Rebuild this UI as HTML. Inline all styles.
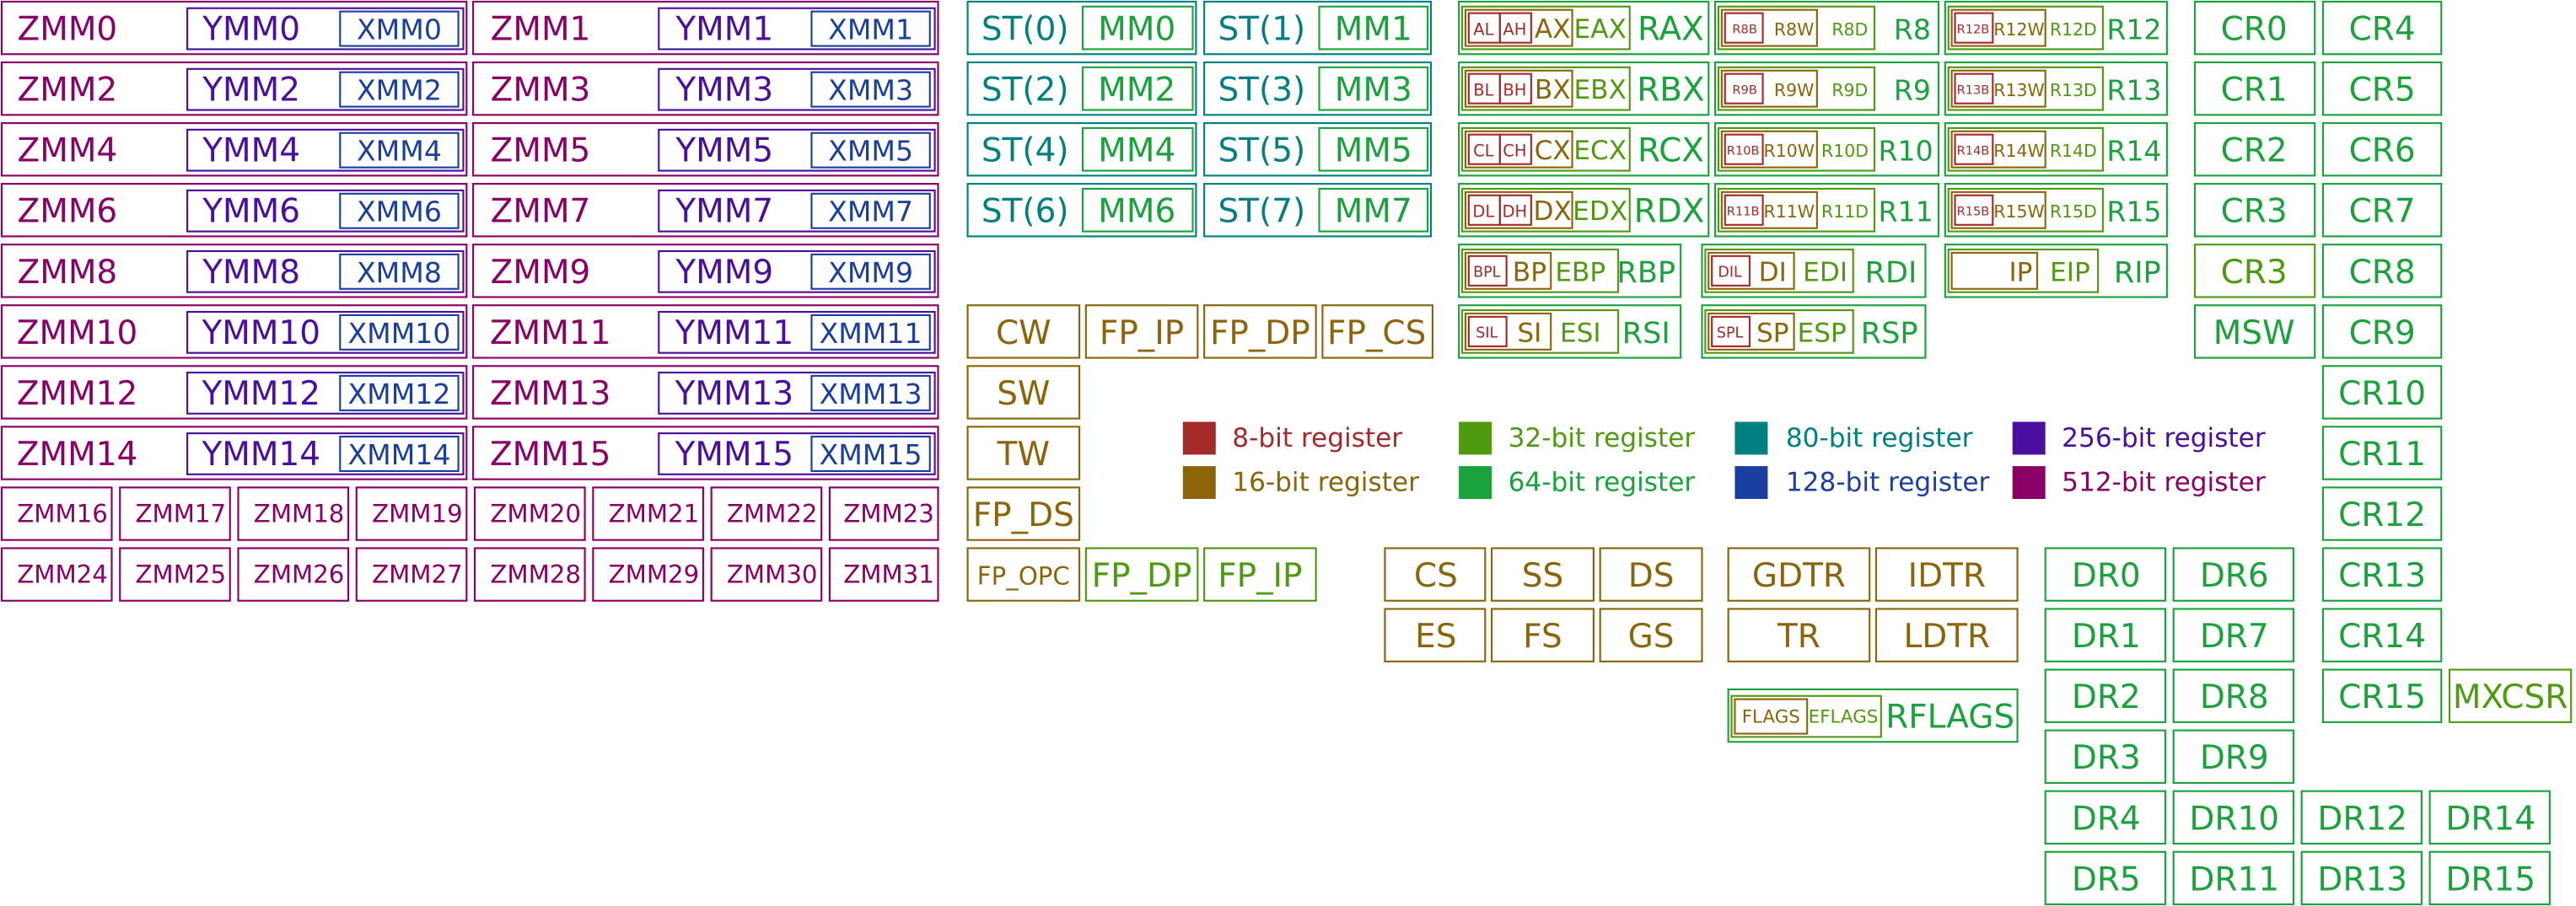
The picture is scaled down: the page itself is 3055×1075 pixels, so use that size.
<!DOCTYPE html>
<html><head><meta charset="utf-8"><style>
html,body{margin:0;padding:0;background:#fff;width:3055px;height:1075px;overflow:hidden}
svg{display:block}
text{font-family:"DejaVu Sans","Liberation Sans",sans-serif;text-anchor:middle;dominant-baseline:central}
rect{fill:none;stroke-width:1.1}
.s8{stroke:#a52a2a}.s16{stroke:#8b6508}.s32{stroke:#4f9a0e}.s64{stroke:#1aa33c}.s80{stroke:#008080}.s128{stroke:#1a3fa0}.s256{stroke:#4b0fa0}.s512{stroke:#8b0066}
.f8{fill:#a52a2a}.f16{fill:#8b6508}.f32{fill:#4f9a0e}.f64{fill:#1aa33c}.f80{fill:#008080}.f128{fill:#1a3fa0}.f256{fill:#4b0fa0}.f512{fill:#8b0066}
.l{text-anchor:start}
</style></head><body>
<svg width="3055" height="1075" viewBox="0 0 1568 552" preserveAspectRatio="none" xmlns="http://www.w3.org/2000/svg">
<!-- ZMM 0-15 -->
<g>
<rect class="s512" x="1" y="1" width="283" height="32"/><text class="f512" x="41" y="18" font-size="20">ZMM0</text><rect class="s256" x="114" y="5" width="168" height="25"/><text class="f256" x="153" y="18" font-size="20">YMM0</text><rect class="s128" x="207" y="7" width="72" height="21"/><text class="f128" x="243" y="18" font-size="17">XMM0</text>
<rect class="s512" x="288" y="1" width="283" height="32"/><text class="f512" x="329" y="18" font-size="20">ZMM1</text><rect class="s256" x="401" y="5" width="168" height="25"/><text class="f256" x="441" y="18" font-size="20">YMM1</text><rect class="s128" x="494" y="7" width="72" height="21"/><text class="f128" x="530" y="18" font-size="17">XMM1</text>

<rect class="s512" x="1" y="38" width="283" height="32"/><text class="f512" x="41" y="55" font-size="20">ZMM2</text><rect class="s256" x="114" y="42" width="168" height="25"/><text class="f256" x="153" y="55" font-size="20">YMM2</text><rect class="s128" x="207" y="44" width="72" height="21"/><text class="f128" x="243" y="55" font-size="17">XMM2</text>
<rect class="s512" x="288" y="38" width="283" height="32"/><text class="f512" x="329" y="55" font-size="20">ZMM3</text><rect class="s256" x="401" y="42" width="168" height="25"/><text class="f256" x="441" y="55" font-size="20">YMM3</text><rect class="s128" x="494" y="44" width="72" height="21"/><text class="f128" x="530" y="55" font-size="17">XMM3</text>

<rect class="s512" x="1" y="75" width="283" height="32"/><text class="f512" x="41" y="92" font-size="20">ZMM4</text><rect class="s256" x="114" y="79" width="168" height="25"/><text class="f256" x="153" y="92" font-size="20">YMM4</text><rect class="s128" x="207" y="81" width="72" height="21"/><text class="f128" x="243" y="92" font-size="17">XMM4</text>
<rect class="s512" x="288" y="75" width="283" height="32"/><text class="f512" x="329" y="92" font-size="20">ZMM5</text><rect class="s256" x="401" y="79" width="168" height="25"/><text class="f256" x="441" y="92" font-size="20">YMM5</text><rect class="s128" x="494" y="81" width="72" height="21"/><text class="f128" x="530" y="92" font-size="17">XMM5</text>

<rect class="s512" x="1" y="112" width="283" height="32"/><text class="f512" x="41" y="129" font-size="20">ZMM6</text><rect class="s256" x="114" y="116" width="168" height="25"/><text class="f256" x="153" y="129" font-size="20">YMM6</text><rect class="s128" x="207" y="118" width="72" height="21"/><text class="f128" x="243" y="129" font-size="17">XMM6</text>
<rect class="s512" x="288" y="112" width="283" height="32"/><text class="f512" x="329" y="129" font-size="20">ZMM7</text><rect class="s256" x="401" y="116" width="168" height="25"/><text class="f256" x="441" y="129" font-size="20">YMM7</text><rect class="s128" x="494" y="118" width="72" height="21"/><text class="f128" x="530" y="129" font-size="17">XMM7</text>

<rect class="s512" x="1" y="149" width="283" height="32"/><text class="f512" x="41" y="166" font-size="20">ZMM8</text><rect class="s256" x="114" y="153" width="168" height="25"/><text class="f256" x="153" y="166" font-size="20">YMM8</text><rect class="s128" x="207" y="155" width="72" height="21"/><text class="f128" x="243" y="166" font-size="17">XMM8</text>
<rect class="s512" x="288" y="149" width="283" height="32"/><text class="f512" x="329" y="166" font-size="20">ZMM9</text><rect class="s256" x="401" y="153" width="168" height="25"/><text class="f256" x="441" y="166" font-size="20">YMM9</text><rect class="s128" x="494" y="155" width="72" height="21"/><text class="f128" x="530" y="166" font-size="17">XMM9</text>

<rect class="s512" x="1" y="186" width="283" height="32"/><text class="f512" x="47" y="203" font-size="20">ZMM10</text><rect class="s256" x="114" y="190" width="168" height="25"/><text class="f256" x="159" y="203" font-size="20">YMM10</text><rect class="s128" x="207" y="192" width="72" height="21"/><text class="f128" x="243" y="203" font-size="17">XMM10</text>
<rect class="s512" x="288" y="186" width="283" height="32"/><text class="f512" x="335" y="203" font-size="20">ZMM11</text><rect class="s256" x="401" y="190" width="168" height="25"/><text class="f256" x="447" y="203" font-size="20">YMM11</text><rect class="s128" x="494" y="192" width="72" height="21"/><text class="f128" x="530" y="203" font-size="17">XMM11</text>

<rect class="s512" x="1" y="223" width="283" height="32"/><text class="f512" x="47" y="240" font-size="20">ZMM12</text><rect class="s256" x="114" y="227" width="168" height="25"/><text class="f256" x="159" y="240" font-size="20">YMM12</text><rect class="s128" x="207" y="229" width="72" height="21"/><text class="f128" x="243" y="240" font-size="17">XMM12</text>
<rect class="s512" x="288" y="223" width="283" height="32"/><text class="f512" x="335" y="240" font-size="20">ZMM13</text><rect class="s256" x="401" y="227" width="168" height="25"/><text class="f256" x="447" y="240" font-size="20">YMM13</text><rect class="s128" x="494" y="229" width="72" height="21"/><text class="f128" x="530" y="240" font-size="17">XMM13</text>

<rect class="s512" x="1" y="260" width="283" height="32"/><text class="f512" x="47" y="277" font-size="20">ZMM14</text><rect class="s256" x="114" y="264" width="168" height="25"/><text class="f256" x="159" y="277" font-size="20">YMM14</text><rect class="s128" x="207" y="266" width="72" height="21"/><text class="f128" x="243" y="277" font-size="17">XMM14</text>
<rect class="s512" x="288" y="260" width="283" height="32"/><text class="f512" x="335" y="277" font-size="20">ZMM15</text><rect class="s256" x="401" y="264" width="168" height="25"/><text class="f256" x="447" y="277" font-size="20">YMM15</text><rect class="s128" x="494" y="266" width="72" height="21"/><text class="f128" x="530" y="277" font-size="17">XMM15</text>
</g>
<!-- ZMM16-31 -->
<g font-size="15">
<rect class="s512" x="1" y="297" width="67" height="32"/><text class="f512" x="38" y="313" font-size="15">ZMM16</text>
<rect class="s512" x="73" y="297" width="67" height="32"/><text class="f512" x="110" y="313" font-size="15">ZMM17</text>
<rect class="s512" x="145" y="297" width="67" height="32"/><text class="f512" x="182" y="313" font-size="15">ZMM18</text>
<rect class="s512" x="217" y="297" width="67" height="32"/><text class="f512" x="254" y="313" font-size="15">ZMM19</text>
<rect class="s512" x="289" y="297" width="67" height="32"/><text class="f512" x="326" y="313" font-size="15">ZMM20</text>
<rect class="s512" x="361" y="297" width="67" height="32"/><text class="f512" x="398" y="313" font-size="15">ZMM21</text>
<rect class="s512" x="433" y="297" width="67" height="32"/><text class="f512" x="470" y="313" font-size="15">ZMM22</text>
<rect class="s512" x="505" y="297" width="66" height="32"/><text class="f512" x="541" y="313" font-size="15">ZMM23</text>
<rect class="s512" x="1" y="334" width="67" height="32"/><text class="f512" x="38" y="350" font-size="15">ZMM24</text>
<rect class="s512" x="73" y="334" width="67" height="32"/><text class="f512" x="110" y="350" font-size="15">ZMM25</text>
<rect class="s512" x="145" y="334" width="67" height="32"/><text class="f512" x="182" y="350" font-size="15">ZMM26</text>
<rect class="s512" x="217" y="334" width="67" height="32"/><text class="f512" x="254" y="350" font-size="15">ZMM27</text>
<rect class="s512" x="289" y="334" width="67" height="32"/><text class="f512" x="326" y="350" font-size="15">ZMM28</text>
<rect class="s512" x="361" y="334" width="67" height="32"/><text class="f512" x="398" y="350" font-size="15">ZMM29</text>
<rect class="s512" x="433" y="334" width="67" height="32"/><text class="f512" x="470" y="350" font-size="15">ZMM30</text>
<rect class="s512" x="505" y="334" width="66" height="32"/><text class="f512" x="541" y="350" font-size="15">ZMM31</text>
</g>
<!-- ST / MM -->
<g>
<rect class="s80" x="589" y="1" width="139" height="32"/><text class="f80" x="624" y="18" font-size="20">ST(0)</text><rect class="s64" x="659" y="4" width="67" height="26"/><text class="f64" x="692" y="18" font-size="20">MM0</text>
<rect class="s80" x="733" y="1" width="138" height="32"/><text class="f80" x="768" y="18" font-size="20">ST(1)</text><rect class="s64" x="803" y="4" width="66" height="26"/><text class="f64" x="836" y="18" font-size="20">MM1</text>
<rect class="s80" x="589" y="38" width="139" height="32"/><text class="f80" x="624" y="55" font-size="20">ST(2)</text><rect class="s64" x="659" y="41" width="67" height="26"/><text class="f64" x="692" y="55" font-size="20">MM2</text>
<rect class="s80" x="733" y="38" width="138" height="32"/><text class="f80" x="768" y="55" font-size="20">ST(3)</text><rect class="s64" x="803" y="41" width="66" height="26"/><text class="f64" x="836" y="55" font-size="20">MM3</text>
<rect class="s80" x="589" y="75" width="139" height="32"/><text class="f80" x="624" y="92" font-size="20">ST(4)</text><rect class="s64" x="659" y="78" width="67" height="26"/><text class="f64" x="692" y="92" font-size="20">MM4</text>
<rect class="s80" x="733" y="75" width="138" height="32"/><text class="f80" x="768" y="92" font-size="20">ST(5)</text><rect class="s64" x="803" y="78" width="66" height="26"/><text class="f64" x="836" y="92" font-size="20">MM5</text>
<rect class="s80" x="589" y="112" width="139" height="32"/><text class="f80" x="624" y="129" font-size="20">ST(6)</text><rect class="s64" x="659" y="115" width="67" height="26"/><text class="f64" x="692" y="129" font-size="20">MM6</text>
<rect class="s80" x="733" y="112" width="138" height="32"/><text class="f80" x="768" y="129" font-size="20">ST(7)</text><rect class="s64" x="803" y="115" width="66" height="26"/><text class="f64" x="836" y="129" font-size="20">MM7</text>
</g>
<!-- FPU control -->
<g>
<rect class="s16" x="589" y="186" width="68" height="32"/><text class="f16" x="623" y="203" font-size="20">CW</text>
<rect class="s16" x="661" y="186" width="68" height="32"/><text class="f16" x="695" y="203" font-size="20">FP_IP</text>
<rect class="s16" x="733" y="186" width="68" height="32"/><text class="f16" x="767" y="203" font-size="20">FP_DP</text>
<rect class="s16" x="805" y="186" width="67" height="32"/><text class="f16" x="838" y="203" font-size="20">FP_CS</text>
<rect class="s16" x="589" y="223" width="68" height="32"/><text class="f16" x="623" y="240" font-size="20">SW</text>
<rect class="s16" x="589" y="260" width="68" height="32"/><text class="f16" x="623" y="277" font-size="20">TW</text>
<rect class="s16" x="589" y="297" width="68" height="32"/><text class="f16" x="623" y="314" font-size="20">FP_DS</text>
<rect class="s16" x="589" y="334" width="68" height="32"/><text class="f16" x="623" y="351" font-size="15">FP_OPC</text>
<rect class="s32" x="661" y="334" width="68" height="32"/><text class="f32" x="695" y="351" font-size="20">FP_DP</text>
<rect class="s32" x="733" y="334" width="68" height="32"/><text class="f32" x="767" y="351" font-size="20">FP_IP</text>
</g>
<!-- segments -->
<g>
<rect class="s16" x="843" y="334" width="61" height="32"/><text class="f16" x="874" y="351" font-size="20">CS</text>
<rect class="s16" x="908" y="334" width="62" height="32"/><text class="f16" x="939" y="351" font-size="20">SS</text>
<rect class="s16" x="974" y="334" width="62" height="32"/><text class="f16" x="1005" y="351" font-size="20">DS</text>
<rect class="s16" x="843" y="371" width="61" height="32"/><text class="f16" x="874" y="388" font-size="20">ES</text>
<rect class="s16" x="908" y="371" width="62" height="32"/><text class="f16" x="939" y="388" font-size="20">FS</text>
<rect class="s16" x="974" y="371" width="62" height="32"/><text class="f16" x="1005" y="388" font-size="20">GS</text>
<rect class="s16" x="1052" y="334" width="86" height="32"/><text class="f16" x="1095" y="351" font-size="20">GDTR</text>
<rect class="s16" x="1142" y="334" width="86" height="32"/><text class="f16" x="1185" y="351" font-size="20">IDTR</text>
<rect class="s16" x="1052" y="371" width="86" height="32"/><text class="f16" x="1095" y="388" font-size="20">TR</text>
<rect class="s16" x="1142" y="371" width="86" height="32"/><text class="f16" x="1185" y="388" font-size="20">LDTR</text>
<rect class="s64" x="1052" y="420" width="176" height="32"/>
<rect class="s32" x="1054" y="424" width="91" height="25"/>
<rect class="s16" x="1056" y="426" width="44" height="21"/>
<text class="f16" x="1078" y="437" font-size="11">FLAGS</text>
<text class="f32" x="1122" y="437" font-size="11">EFLAGS</text>
<text class="f64" x="1187" y="437" font-size="20">RFLAGS</text>
</g>
<!-- GPR block A -->
<g>
<rect class="s64" x="888" y="1" width="152" height="32"/><rect class="s32" x="890" y="4" width="102" height="26"/><rect class="s16" x="892" y="6" width="65" height="22"/><rect class="s8" x="894" y="8" width="19" height="18"/><rect class="s8" x="913" y="8" width="19" height="18"/>
<text class="f8" x="903" y="18" font-size="10">AL</text><text class="f8" x="922" y="18" font-size="10">AH</text><text class="f16" x="945" y="18" font-size="16">AX</text><text class="f32" x="974" y="18" font-size="16">EAX</text><text class="f64" x="1017" y="18" font-size="20">RAX</text>
<rect class="s64" x="888" y="38" width="152" height="32"/><rect class="s32" x="890" y="41" width="102" height="26"/><rect class="s16" x="892" y="43" width="65" height="22"/><rect class="s8" x="894" y="45" width="19" height="18"/><rect class="s8" x="913" y="45" width="19" height="18"/>
<text class="f8" x="903" y="55" font-size="10">BL</text><text class="f8" x="922" y="55" font-size="10">BH</text><text class="f16" x="945" y="55" font-size="16">BX</text><text class="f32" x="974" y="55" font-size="16">EBX</text><text class="f64" x="1017" y="55" font-size="20">RBX</text>
<rect class="s64" x="888" y="75" width="152" height="32"/><rect class="s32" x="890" y="78" width="102" height="26"/><rect class="s16" x="892" y="80" width="65" height="22"/><rect class="s8" x="894" y="82" width="19" height="18"/><rect class="s8" x="913" y="82" width="19" height="18"/>
<text class="f8" x="903" y="92" font-size="10">CL</text><text class="f8" x="922" y="92" font-size="10">CH</text><text class="f16" x="945" y="92" font-size="16">CX</text><text class="f32" x="974" y="92" font-size="16">ECX</text><text class="f64" x="1017" y="92" font-size="20">RCX</text>
<rect class="s64" x="888" y="112" width="152" height="32"/><rect class="s32" x="890" y="115" width="102" height="26"/><rect class="s16" x="892" y="117" width="65" height="22"/><rect class="s8" x="894" y="119" width="19" height="18"/><rect class="s8" x="913" y="119" width="19" height="18"/>
<text class="f8" x="903" y="129" font-size="10">DL</text><text class="f8" x="922" y="129" font-size="10">DH</text><text class="f16" x="945" y="129" font-size="16">DX</text><text class="f32" x="974" y="129" font-size="16">EDX</text><text class="f64" x="1016" y="129" font-size="20">RDX</text>
</g>
<!-- GPR block B -->
<g>
<rect class="s64" x="1044" y="1" width="136" height="32"/><rect class="s32" x="1046" y="4" width="95" height="26"/><rect class="s16" x="1048" y="6" width="58" height="22"/><rect class="s8" x="1050" y="8" width="23" height="18"/>
<text class="f8" x="1062" y="18" font-size="7.5">R8B</text><text class="f16" x="1092" y="18" font-size="10.5">R8W</text><text class="f32" x="1126" y="18" font-size="10.5">R8D</text><text class="f64" x="1164" y="18" font-size="17">R8</text>
<rect class="s64" x="1044" y="38" width="136" height="32"/><rect class="s32" x="1046" y="41" width="95" height="26"/><rect class="s16" x="1048" y="43" width="58" height="22"/><rect class="s8" x="1050" y="45" width="23" height="18"/>
<text class="f8" x="1062" y="55" font-size="7.5">R9B</text><text class="f16" x="1092" y="55" font-size="10.5">R9W</text><text class="f32" x="1126" y="55" font-size="10.5">R9D</text><text class="f64" x="1164" y="55" font-size="17">R9</text>
<rect class="s64" x="1044" y="75" width="136" height="32"/><rect class="s32" x="1046" y="78" width="95" height="26"/><rect class="s16" x="1048" y="80" width="58" height="22"/><rect class="s8" x="1050" y="82" width="23" height="18"/>
<text class="f8" x="1061" y="92" font-size="7.5">R10B</text><text class="f16" x="1089" y="92" font-size="10.5">R10W</text><text class="f32" x="1123" y="92" font-size="10.5">R10D</text><text class="f64" x="1160" y="92" font-size="17">R10</text>
<rect class="s64" x="1044" y="112" width="136" height="32"/><rect class="s32" x="1046" y="115" width="95" height="26"/><rect class="s16" x="1048" y="117" width="58" height="22"/><rect class="s8" x="1050" y="119" width="23" height="18"/>
<text class="f8" x="1061" y="129" font-size="7.5">R11B</text><text class="f16" x="1089" y="129" font-size="10.5">R11W</text><text class="f32" x="1123" y="129" font-size="10.5">R11D</text><text class="f64" x="1160" y="129" font-size="17">R11</text>
</g>
<!-- GPR block C -->
<g>
<rect class="s64" x="1184" y="1" width="135" height="32"/><rect class="s32" x="1186" y="4" width="94" height="26"/><rect class="s16" x="1188" y="6" width="57" height="22"/><rect class="s8" x="1190" y="8" width="23" height="18"/>
<text class="f8" x="1201" y="18" font-size="7.5">R12B</text><text class="f16" x="1229" y="18" font-size="10.5">R12W</text><text class="f32" x="1262" y="18" font-size="10.5">R12D</text><text class="f64" x="1299" y="18" font-size="17">R12</text>
<rect class="s64" x="1184" y="38" width="135" height="32"/><rect class="s32" x="1186" y="41" width="94" height="26"/><rect class="s16" x="1188" y="43" width="57" height="22"/><rect class="s8" x="1190" y="45" width="23" height="18"/>
<text class="f8" x="1201" y="55" font-size="7.5">R13B</text><text class="f16" x="1229" y="55" font-size="10.5">R13W</text><text class="f32" x="1262" y="55" font-size="10.5">R13D</text><text class="f64" x="1299" y="55" font-size="17">R13</text>
<rect class="s64" x="1184" y="75" width="135" height="32"/><rect class="s32" x="1186" y="78" width="94" height="26"/><rect class="s16" x="1188" y="80" width="57" height="22"/><rect class="s8" x="1190" y="82" width="23" height="18"/>
<text class="f8" x="1201" y="92" font-size="7.5">R14B</text><text class="f16" x="1229" y="92" font-size="10.5">R14W</text><text class="f32" x="1262" y="92" font-size="10.5">R14D</text><text class="f64" x="1299" y="92" font-size="17">R14</text>
<rect class="s64" x="1184" y="112" width="135" height="32"/><rect class="s32" x="1186" y="115" width="94" height="26"/><rect class="s16" x="1188" y="117" width="57" height="22"/><rect class="s8" x="1190" y="119" width="23" height="18"/>
<text class="f8" x="1201" y="129" font-size="7.5">R15B</text><text class="f16" x="1229" y="129" font-size="10.5">R15W</text><text class="f32" x="1262" y="129" font-size="10.5">R15D</text><text class="f64" x="1299" y="129" font-size="17">R15</text>
</g>
<!-- rows 4/5 GPR -->
<g>
<rect class="s64" x="888" y="149" width="135" height="32"/><rect class="s32" x="890" y="152" width="95" height="26"/><rect class="s16" x="892" y="154" width="52" height="22"/><rect class="s8" x="894" y="156" width="23" height="18"/>
<text class="f8" x="905" y="166" font-size="9">BPL</text><text class="f16" x="931" y="166" font-size="16">BP</text><text class="f32" x="962" y="166" font-size="16">EBP</text><text class="f64" x="1002" y="166" font-size="18">RBP</text>
<rect class="s64" x="888" y="186" width="135" height="32"/><rect class="s32" x="890" y="189" width="95" height="26"/><rect class="s16" x="892" y="191" width="52" height="22"/><rect class="s8" x="894" y="193" width="23" height="18"/>
<text class="f8" x="905" y="203" font-size="9">SIL</text><text class="f16" x="931" y="203" font-size="16">SI</text><text class="f32" x="962" y="203" font-size="16">ESI</text><text class="f64" x="1002" y="203" font-size="18">RSI</text>
<rect class="s64" x="1036" y="149" width="136" height="32"/><rect class="s32" x="1038" y="152" width="90" height="26"/><rect class="s16" x="1040" y="154" width="52" height="22"/><rect class="s8" x="1042" y="156" width="23" height="18"/>
<text class="f8" x="1053" y="166" font-size="9">DIL</text><text class="f16" x="1079" y="166" font-size="16">DI</text><text class="f32" x="1111" y="166" font-size="16">EDI</text><text class="f64" x="1151" y="166" font-size="18">RDI</text>
<rect class="s64" x="1036" y="186" width="136" height="32"/><rect class="s32" x="1038" y="189" width="90" height="26"/><rect class="s16" x="1040" y="191" width="52" height="22"/><rect class="s8" x="1042" y="193" width="23" height="18"/>
<text class="f8" x="1053" y="203" font-size="9">SPL</text><text class="f16" x="1079" y="203" font-size="16">SP</text><text class="f32" x="1109" y="203" font-size="16">ESP</text><text class="f64" x="1150" y="203" font-size="18">RSP</text>
<rect class="s64" x="1184" y="149" width="135" height="32"/><rect class="s32" x="1186" y="152" width="91" height="26"/><rect class="s16" x="1188" y="154" width="52" height="22"/>
<text class="f16" x="1230" y="166" font-size="16">IP</text><text class="f32" x="1260" y="166" font-size="16">EIP</text><text class="f64" x="1301" y="166" font-size="18">RIP</text>
</g>
<!-- CR -->
<g>
<rect class="s64" x="1336" y="1" width="73" height="32"/><text class="f64" x="1372" y="18" font-size="20">CR0</text>
<rect class="s64" x="1414" y="1" width="72" height="32"/><text class="f64" x="1450" y="18" font-size="20">CR4</text>
<rect class="s64" x="1336" y="38" width="73" height="32"/><text class="f64" x="1372" y="55" font-size="20">CR1</text>
<rect class="s64" x="1414" y="38" width="72" height="32"/><text class="f64" x="1450" y="55" font-size="20">CR5</text>
<rect class="s64" x="1336" y="75" width="73" height="32"/><text class="f64" x="1372" y="92" font-size="20">CR2</text>
<rect class="s64" x="1414" y="75" width="72" height="32"/><text class="f64" x="1450" y="92" font-size="20">CR6</text>
<rect class="s64" x="1336" y="112" width="73" height="32"/><text class="f64" x="1372" y="129" font-size="20">CR3</text>
<rect class="s64" x="1414" y="112" width="72" height="32"/><text class="f64" x="1450" y="129" font-size="20">CR7</text>
<rect class="s32" x="1336" y="149" width="73" height="32"/><text class="f32" x="1372" y="166" font-size="20">CR3</text>
<rect class="s64" x="1414" y="149" width="72" height="32"/><text class="f64" x="1450" y="166" font-size="20">CR8</text>
<rect class="s64" x="1336" y="186" width="73" height="32"/><text class="f64" x="1372" y="203" font-size="20">MSW</text>
<rect class="s64" x="1414" y="186" width="72" height="32"/><text class="f64" x="1450" y="203" font-size="20">CR9</text>
<rect class="s64" x="1414" y="223" width="72" height="32"/><text class="f64" x="1450" y="240" font-size="20">CR10</text>
<rect class="s64" x="1414" y="260" width="72" height="32"/><text class="f64" x="1450" y="277" font-size="20">CR11</text>
<rect class="s64" x="1414" y="297" width="72" height="32"/><text class="f64" x="1450" y="314" font-size="20">CR12</text>
<rect class="s64" x="1414" y="334" width="72" height="32"/><text class="f64" x="1450" y="351" font-size="20">CR13</text>
<rect class="s64" x="1414" y="371" width="72" height="32"/><text class="f64" x="1450" y="388" font-size="20">CR14</text>
<rect class="s64" x="1414" y="408" width="72" height="32"/><text class="f64" x="1450" y="425" font-size="20">CR15</text>
<rect class="s32" x="1491" y="408" width="74" height="32"/><text class="f32" x="1528" y="425" font-size="20">MXCSR</text>
</g>
<!-- DR -->
<g>
<rect class="s64" x="1245" y="334" width="73" height="32"/><text class="f64" x="1282" y="351" font-size="20">DR0</text>
<rect class="s64" x="1323" y="334" width="73" height="32"/><text class="f64" x="1360" y="351" font-size="20">DR6</text>
<rect class="s64" x="1245" y="371" width="73" height="32"/><text class="f64" x="1282" y="388" font-size="20">DR1</text>
<rect class="s64" x="1323" y="371" width="73" height="32"/><text class="f64" x="1360" y="388" font-size="20">DR7</text>
<rect class="s64" x="1245" y="408" width="73" height="32"/><text class="f64" x="1282" y="425" font-size="20">DR2</text>
<rect class="s64" x="1323" y="408" width="73" height="32"/><text class="f64" x="1360" y="425" font-size="20">DR8</text>
<rect class="s64" x="1245" y="445" width="73" height="32"/><text class="f64" x="1282" y="462" font-size="20">DR3</text>
<rect class="s64" x="1323" y="445" width="73" height="32"/><text class="f64" x="1360" y="462" font-size="20">DR9</text>
<rect class="s64" x="1245" y="482" width="73" height="32"/><text class="f64" x="1282" y="499" font-size="20">DR4</text>
<rect class="s64" x="1323" y="482" width="73" height="32"/><text class="f64" x="1360" y="499" font-size="20">DR10</text>
<rect class="s64" x="1401" y="482" width="73" height="32"/><text class="f64" x="1438" y="499" font-size="20">DR12</text>
<rect class="s64" x="1479" y="482" width="73" height="32"/><text class="f64" x="1516" y="499" font-size="20">DR14</text>
<rect class="s64" x="1245" y="519" width="73" height="32"/><text class="f64" x="1282" y="536" font-size="20">DR5</text>
<rect class="s64" x="1323" y="519" width="73" height="32"/><text class="f64" x="1360" y="536" font-size="20">DR11</text>
<rect class="s64" x="1401" y="519" width="73" height="32"/><text class="f64" x="1438" y="536" font-size="20">DR13</text>
<rect class="s64" x="1479" y="519" width="73" height="32"/><text class="f64" x="1516" y="536" font-size="20">DR15</text>
</g>
<!-- legend -->
<g font-size="16">
<rect x="720" y="257" width="20" height="20" style="fill:#a52a2a;stroke:none"/><text class="f8 l" x="750" y="267" font-size="16">8-bit register</text>
<rect x="888" y="257" width="20" height="20" style="fill:#4f9a0e;stroke:none"/><text class="f32 l" x="918" y="267" font-size="16">32-bit register</text>
<rect x="1056" y="257" width="20" height="20" style="fill:#008080;stroke:none"/><text class="f80 l" x="1087" y="267" font-size="16">80-bit register</text>
<rect x="1225" y="257" width="20" height="20" style="fill:#4b0fa0;stroke:none"/><text class="f256 l" x="1255" y="267" font-size="16">256-bit register</text>
<rect x="720" y="284" width="20" height="20" style="fill:#8b6508;stroke:none"/><text class="f16 l" x="750" y="294" font-size="16">16-bit register</text>
<rect x="888" y="284" width="20" height="20" style="fill:#1aa33c;stroke:none"/><text class="f64 l" x="918" y="294" font-size="16">64-bit register</text>
<rect x="1056" y="284" width="20" height="20" style="fill:#1a3fa0;stroke:none"/><text class="f128 l" x="1087" y="294" font-size="16">128-bit register</text>
<rect x="1225" y="284" width="20" height="20" style="fill:#8b0066;stroke:none"/><text class="f512 l" x="1255" y="294" font-size="16">512-bit register</text>
</g>
</svg>
</body></html>
